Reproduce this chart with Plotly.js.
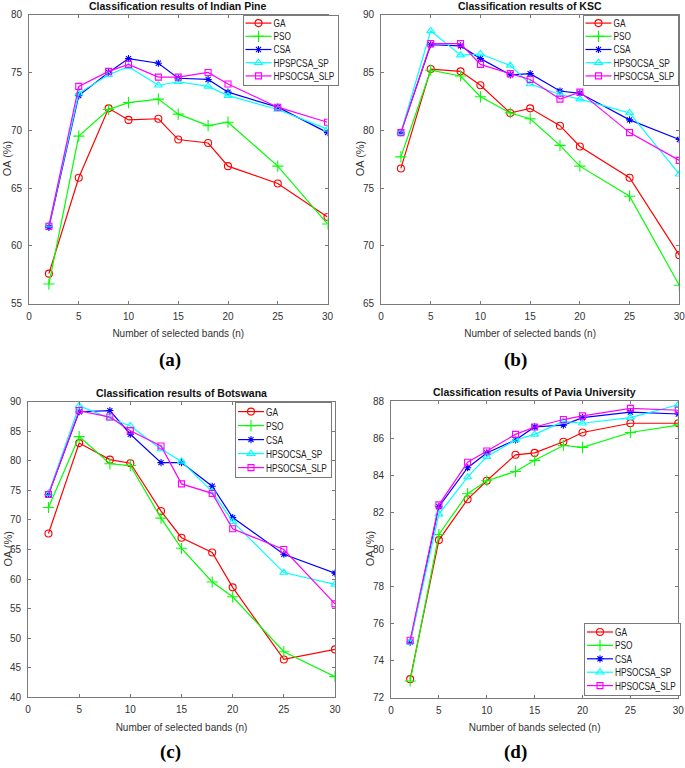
<!DOCTYPE html>
<html>
<head>
<meta charset="utf-8">
<script src="https://cdn.plot.ly/plotly-3.0.1.min.js"></script>
<style>
  html, body { margin: 0; padding: 0; background: #fff; }
  #plot { width: 685px; height: 768px; }
</style>
</head>
<body>
<div id="plot"></div>
<script>
// Band-selection results, OA (%) vs number of selected bands, 4 datasets
const BANDS = [2, 5, 8, 10, 13, 15, 18, 20, 25, 30];

// (a) Indian Pine
const IP_GA  = [57.6, 65.9, 71.9, 70.9, 71.0, 69.2, 68.9, 66.9, 65.4, 62.5];
const IP_PSO = [56.7, 69.5, 71.8, 72.4, 72.7, 71.4, 70.4, 70.7, 66.9, 61.9];
const IP_CSA = [61.6, 73.0, 75.0, 76.2, 75.8, 74.5, 74.4, 73.3, 72.0, 69.8];
const IP_SP  = [61.8, 73.2, 74.8, 75.5, 73.9, 74.2, 73.8, 73.0, 71.8, 70.1];
const IP_SLP = [61.7, 73.8, 75.1, 75.7, 74.6, 74.6, 75.0, 74.0, 72.0, 70.7];

// (b) KSC
const KSC_GA  = [76.7, 85.3, 85.1, 83.9, 81.5, 81.9, 80.4, 78.6, 75.9, 69.2];
const KSC_PSO = [77.7, 85.2, 84.7, 82.9, 81.5, 81.0, 78.7, 76.9, 74.3, 66.6];
const KSC_CSA = [79.8, 87.4, 87.3, 86.2, 84.8, 84.9, 83.4, 83.2, 80.9, 79.2];
const KSC_SP  = [79.8, 88.6, 86.5, 86.6, 85.6, 84.0, 83.1, 82.7, 81.5, 76.2];
const KSC_SLP = [79.8, 87.5, 87.5, 85.7, 84.9, 84.4, 82.7, 83.3, 79.8, 77.4];

// (c) Botswana
const BOT_GA  = [67.7, 83.0, 80.2, 79.6, 71.5, 67.0, 64.5, 58.6, 46.4, 48.1];
const BOT_PSO = [72.1, 84.1, 79.5, 79.2, 70.3, 65.2, 59.5, 57.0, 47.7, 43.5];
const BOT_CSA = [74.3, 88.3, 88.5, 84.5, 79.7, 79.7, 75.7, 70.4, 64.2, 61.0];
const BOT_SP  = [74.5, 89.3, 87.2, 85.9, 82.0, 79.9, 74.8, 69.7, 61.1, 59.1];
const BOT_SLP = [74.3, 88.5, 87.4, 85.1, 82.5, 76.1, 74.5, 68.5, 65.0, 55.8];

// (d) Pavia University
const PU_GA  = [73.0, 80.5, 82.7, 83.7, 85.1, 85.2, 85.8, 86.3, 86.8, 86.8];
const PU_PSO = [72.9, 80.8, 83.0, 83.7, 84.2, 84.8, 85.6, 85.5, 86.3, 86.7];
const PU_CSA = [75.0, 82.3, 84.4, 85.2, 85.9, 86.6, 86.7, 87.1, 87.4, 87.3];
const PU_SP  = [75.0, 81.9, 83.9, 85.0, 85.9, 86.2, 86.9, 86.8, 87.1, 87.8];
const PU_SLP = [75.1, 82.4, 84.7, 85.3, 86.2, 86.6, 87.0, 87.2, 87.6, 87.5];

const NAMES_A = ['GA', 'PSO', 'CSA', 'HPSPCSA_SP', 'HPSOCSA_SLP'];
const NAMES   = ['GA', 'PSO', 'CSA', 'HPSOCSA_SP', 'HPSOCSA_SLP'];
const TITLES  = ['Classification results of Indian Pine', 'Classification results of KSC',
                 'Classification results of Botswana', 'Classification results of Pavia University'];
const XTITLES = ['Number of selected bands (n)', 'Number of selected bands (n)',
                 'Number of selected bands (n)', 'Number of bands selected (n)'];
const YTITLE  = 'OA (%)';
const TAGS    = ['(a)', '(b)', '(c)', '(d)'];
const YRANGES = [[55, 80], [65, 90], [40, 90], [72, 88]];
const YDTICK  = [5, 5, 5, 2];

(function () {
  const W = 685, H = 768;
  const FONT = 'Liberation Sans, Arial, sans-serif';
  const COLORS = ['#ff0000', '#00ff00', '#0000ff', '#00ffff', '#ff00ff'];
  const SYMBOLS = ['circle-open', 'cross-thin-open', 'asterisk-open', 'triangle-up-open', 'square-open'];
  const SIZES = [7, 8, 6, 7, 6];
  const LEG_SQUEEZE = 0.83;   // MATLAB legend text is narrower than Liberation Sans

  // plot boxes in page pixels: [left, top, right, bottom]
  const BOX = [[29, 14.7, 327.5, 303.7], [381, 14.7, 679.3, 303.7],
               [28, 401.7, 335, 697.3], [391, 401, 678.3, 697.7]];
  const YTITLE_X = [7, 360, 7, 370];
  // legend boxes in page pixels (rows are tighter than plotly's 19px minimum)
  const LEG = [
    { left: 242.5, top: 14.5, first: 8.6, step: 13.2 },
    { left: 582.5, top: 14.5, first: 8.6, step: 13.2 },
    { left: 235,   top: 402,  first: 9.6, step: 14.0 },
    { left: 584,   top: 623,  first: 9.0, step: 13.4 },
  ];

  const SERIES = [
    [IP_GA, IP_PSO, IP_CSA, IP_SP, IP_SLP],
    [KSC_GA, KSC_PSO, KSC_CSA, KSC_SP, KSC_SLP],
    [BOT_GA, BOT_PSO, BOT_CSA, BOT_SP, BOT_SLP],
    [PU_GA, PU_PSO, PU_CSA, PU_SP, PU_SLP],
  ];

  const traces = [];
  const layout = {
    width: W, height: H,
    margin: { l: 0, r: 0, t: 0, b: 0, autoexpand: false },
    paper_bgcolor: '#fff', plot_bgcolor: '#fff',
    font: { family: FONT, size: 10, color: '#333' },
    annotations: [],
  };

  SERIES.forEach((set, p) => {
    const sfx = p === 0 ? '' : String(p + 1);
    const legKey = 'legend' + sfx;
    const names = p === 0 ? NAMES_A : NAMES;
    set.forEach((ys, i) => {
      traces.push({
        x: BANDS, y: ys, type: 'scatter', mode: 'lines+markers', name: names[i],
        xaxis: 'x' + sfx, yaxis: 'y' + sfx, legend: legKey,
        line: { color: COLORS[i], width: 1.2 },
        marker: { symbol: SYMBOLS[i], size: SIZES[i], color: COLORS[i], line: { width: 1.1, color: COLORS[i] } },
      });
    });

    const b = BOX[p];
    const axis = {
      showline: true, linecolor: '#7a7a7a', linewidth: 1, mirror: 'ticks',
      ticks: 'inside', ticklen: 3, tickcolor: '#7a7a7a',
      showgrid: false, zeroline: false, ticklabeloverflow: 'allow',
      tickfont: { family: FONT, size: 10, color: '#333' },
    };
    layout['xaxis' + sfx] = Object.assign({}, axis, {
      domain: [b[0] / W, b[2] / W], anchor: 'y' + sfx,
      range: [0, 30], tick0: 0, dtick: 5, ticklabelstandoff: 3,
      title: { text: XTITLES[p], font: { family: FONT, size: 10, color: '#333' }, standoff: 9 },
    });
    layout['yaxis' + sfx] = Object.assign({}, axis, {
      domain: [1 - b[3] / H, 1 - b[1] / H], anchor: 'x' + sfx,
      range: YRANGES[p], tick0: 0, dtick: YDTICK[p], ticklabelstandoff: 4,
    });

    // placed fully inside the page first, then moved by compactLegend
    layout[legKey] = {
      x: Math.min(LEG[p].left + 125, W - 1) / W, y: 1 - LEG[p].top / H, xanchor: 'right', yanchor: 'top',
      bgcolor: '#fff', bordercolor: '#7a7a7a', borderwidth: 1,
      font: { family: FONT, size: 10, color: '#222' }, itemwidth: 30, tracegroupgap: 0,
    };

    // panel title, y title and (a)-(d) tag
    layout.annotations.push({
      xref: 'paper', yref: 'paper', x: (b[0] + b[2]) / 2 / W, y: 1 - (b[1] - 9) / H,
      xanchor: 'center', yanchor: 'middle', showarrow: false,
      text: '<b>' + TITLES[p] + '</b>', font: { family: FONT, size: 10.5, color: '#111' },
    });
    layout.annotations.push({
      xref: 'paper', yref: 'paper', x: YTITLE_X[p] / W, y: 1 - (b[1] + b[3]) / 2 / H,
      xanchor: 'center', yanchor: 'middle', showarrow: false, textangle: -90,
      text: YTITLE, font: { family: FONT, size: 11, color: '#333' },
    });
    layout.annotations.push({
      xref: 'paper', yref: 'paper', x: (p % 2 === 0 ? 170 : 515) / W, y: 1 - (p < 2 ? 360 : 752) / H,
      xanchor: 'center', yanchor: 'middle', showarrow: false,
      text: '<b>' + TAGS[p] + '</b>', font: { family: 'Liberation Serif, Times New Roman, serif', size: 19, color: '#000' },
    });
  });

  // plotly keeps legend rows >= 19px; pull them together like the MATLAB legends.
  // class names differ between legend ids, so match the item parts generically
  function compactLegend(id, spec) {
    const g = Array.from(document.querySelectorAll('g.' + id)).find(n => n.querySelector(':scope > rect.bg'));
    if (!g) return;
    const box = g.querySelector('g.scrollbox');
    if (box) box.removeAttribute('clip-path');
    const items = g.querySelectorAll('g.traces');
    let textW = 0;
    items.forEach((it, i) => {
      it.setAttribute('transform', 'translate(0,' + (spec.first + spec.step * i) + ')');
      it.querySelectorAll('path').forEach(pth => {
        const d = pth.getAttribute('d') || '';
        const tr = pth.getAttribute('transform') || '';
        if (/^M5,0h30/.test(d)) pth.setAttribute('d', 'M3,0h26');
        if (/translate\(20/.test(tr)) pth.setAttribute('transform', 'translate(16,0)');
      });
      const t = it.querySelector('text');
      if (t) {
        t.removeAttribute('textLength');
        const w = t.getComputedTextLength() * LEG_SQUEEZE;
        t.setAttribute('textLength', w);
        t.setAttribute('lengthAdjust', 'spacingAndGlyphs');
        t.setAttribute('x', 31);
        textW = Math.max(textW, w);
      }
    });
    const bg = g.querySelector(':scope > rect.bg');
    bg.setAttribute('x', 0.5); bg.setAttribute('y', 0.5);
    bg.setAttribute('width', 31 + textW + 4);
    bg.setAttribute('height', spec.first * 2 + spec.step * (items.length - 1));
    g.setAttribute('transform', 'translate(' + spec.left + ',' + spec.top + ')');
  }

  const gd = document.getElementById('plot');
  const tidy = () => ['legend', 'legend2', 'legend3', 'legend4'].forEach((id, p) => compactLegend(id, LEG[p]));
  Plotly.newPlot(gd, traces, layout, { staticPlot: true }).then(() => {
    tidy();
    gd.on('plotly_afterplot', tidy);
  });
})();
</script>
</body>
</html>
